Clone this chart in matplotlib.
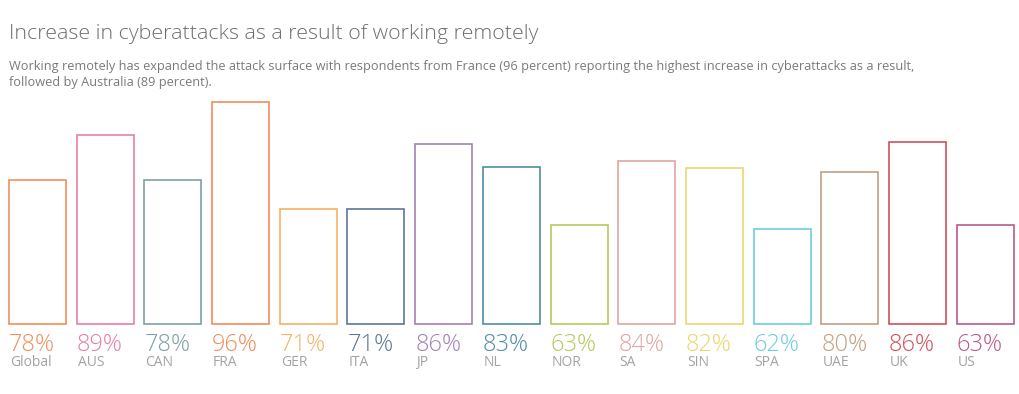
import matplotlib
matplotlib.use("Agg")
import matplotlib.pyplot as plt

# ---- data ----
countries = ["Global", "AUS", "CAN", "FRA", "GER", "ITA", "JP", "NL",
             "NOR", "SA", "SIN", "SPA", "UAE", "UK", "US"]
values = [78, 89, 78, 96, 71, 71, 86, 83, 63, 84, 82, 62, 80, 86, 63]
# bar heights as drawn in the source graphic (percent scale, not strictly proportional to labels)
bar_heights = [62.3, 81.6, 62.3, 96, 49.8, 49.8, 78.0, 68.1,
               42.8, 70.4, 67.4, 41.0, 65.6, 78.5, 42.6]
colors = ["#F0905A", "#E97FA3", "#7E9FA8", "#F28C5C", "#F6B265", "#5E7796",
          "#A680B2", "#4F8DA4", "#B5C95E", "#E0A5A2", "#ECD56C", "#6ECDDE",
          "#C2A080", "#D2505A", "#BA5A8C"]
title = "Increase in cyberattacks as a result of working remotely"
subtitle = ("Working remotely has expanded the attack surface with respondents from France (96 percent) "
            "reporting the highest increase in cyberattacks as a result,\nfollowed by Australia (89 percent).")

FONT = "Open Sans"

W, H = 1020, 394
fig = plt.figure(figsize=(W / 100, H / 100), dpi=100)
fig.patch.set_facecolor("white")

def fy(px):
    return 1 - px / H

# axes: bars baseline at y=324 px, FRA (96) top at y=102 px
ax = fig.add_axes([0, fy(324), 1, (324 - 102) / H])
pitch = 67.7
x0 = 37.5
ax.set_xlim((0 - x0) / pitch, (W - x0) / pitch)
ax.set_ylim(0, 96)
ax.axis("off")

bw = 57 / pitch
xs = list(range(len(countries)))
bars = ax.bar(xs, bar_heights, width=bw, facecolor="none",
              edgecolor=colors, linewidth=1.2)
for b in bars:
    b.set_clip_on(False)

for i, (c, v, col) in enumerate(zip(countries, values, colors)):
    ax.annotate(f"{v}%", xy=(i - bw / 2, 0), xytext=(0, -27),
                textcoords="offset pixels", ha="left", va="baseline",
                fontsize=17, color=col, family=FONT, fontweight="light",
                annotation_clip=False)
    ax.annotate(c, xy=(i - bw / 2, 0), xytext=(1, -42),
                textcoords="offset pixels", ha="left", va="baseline",
                fontsize=10, color="#A3A3A3", family=FONT,
                annotation_clip=False)

fig.text(9 / W, fy(38.5), title, ha="left", va="baseline",
         fontsize=15.4, color="#6E6E6E", family=FONT, fontweight="light")
fig.text(9 / W, fy(86), subtitle, ha="left", va="baseline",
         fontsize=9.2, color="#7A7A7A", family=FONT, linespacing=1.3)

fig.savefig("out.png", dpi=100, facecolor="white")
